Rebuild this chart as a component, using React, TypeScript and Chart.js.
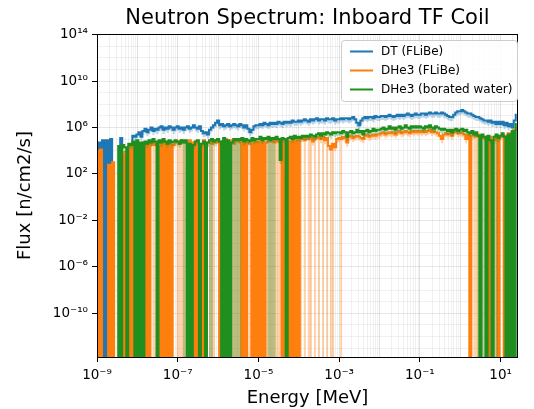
import React, { useEffect, useRef } from 'react';
import { Chart, registerables } from 'chart.js';

Chart.register(...registerables);

// ---------- data ----------
// Zero flux (tally empty): plotted just under the bottom of the log axis,
// so the curve drops straight down out of the plot
const Z = -14.3;

// Energy bin grid: log10(E / MeV) from -9 in steps of 0.05 decades (209 bins)
const ENERGY_EXP_START = -9;
const ENERGY_EXP_STEP = 0.05;

// log10 of flux [n/cm2/s], one value per energy bin
const dtFlibe = [
  Z, 4.7, Z, 4.9, Z, 4.9, Z, 5.0, Z, Z, Z, Z, 5.1, Z, Z, Z, Z, Z, 5.3, 5.2,
  5.4, 5.6, 5.2, 5.7, 5.9, 5.6, 5.8, 6.0, 5.7, 5.9, 5.8, 6.0, 6.1, 5.8, 6.0, 5.9, 6.1, 6.0, 5.8, 6.0,
  6.1, 5.9, 6.0, 5.8, 6.0, 6.1, 5.9, 6.0, 6.2, 6.0, 5.9, 6.1, 5.7, 5.5, 5.6, 5.4, 5.8, 6.0, 6.2, 6.4,
  6.6, 6.2, 6.3, 6.1, 6.2, 6.3, 6.1, 6.2, 6.3, 6.2, 6.1, 6.3, 6.2, 6.0, 6.2, 5.9, 5.6, 5.8, 6.1, 6.2,
  6.2, 6.3, 6.2, 6.4, 6.3, 6.2, 6.4, 6.3, 6.4, 6.3, 6.5, 6.4, 6.3, 6.5, 6.4, 6.5, 6.4, 6.6, 6.5, 6.5,
  6.6, 6.5, 6.6, 6.7, 6.6, 6.5, 6.7, 6.6, 6.7, 6.8, 6.6, 6.7, 6.7, 6.6, 6.8, 6.7, 6.7, 6.8, 6.6, 6.7,
  6.7, 6.8, 6.7, 6.8, 6.8, 6.7, 6.8, 6.9, 6.7, 6.4, 6.2, 6.6, 6.8, 6.9, 6.8, 6.9, 6.9, 6.8, 7.0, 6.9,
  6.9, 7.0, 7.0, 6.9, 7.0, 7.1, 7.0, 6.9, 7.0, 7.1, 7.0, 7.1, 7.0, 7.1, 7.2, 7.1, 7.0, 7.1, 7.2, 7.1,
  7.1, 7.2, 7.2, 7.1, 7.2, 7.3, 7.2, 7.2, 7.3, 7.2, 7.2, 7.3, 7.2, 7.1, 7.0, 6.9, 6.9, 7.1, 7.3, 7.4,
  7.4, 7.5, 7.4, 7.3, 7.2, 7.2, 7.1, 7.0, 6.9, 6.9, 6.8, 6.7, 6.6, 6.6, 6.5, 6.6, 6.4, 6.5, 6.3, 6.5,
  6.3, 6.5, 6.2, 6.4, 6.1, 6.3, 6.0, 6.6, 7.1,
];

const dhe3Flibe = [
  4.0, Z, 4.1, Z, Z, Z, 2.8, Z, 3.0, Z, Z, Z, 3.6, Z, 3.9, Z, 4.4, Z, 4.3, Z,
  4.5, 4.6, 4.4, 4.7, Z, 4.6, Z, 4.8, 4.5, 4.7, 4.4, Z, 4.7, Z, 4.8, Z, 4.6, Z, 4.5, 4.7,
  4.8, 4.6, 4.9, 4.7, 4.8, 4.6, 4.9, 4.7, Z, 4.8, Z, 4.6, Z, 4.9, Z, 4.7, 4.8, 4.6, 4.9, 4.7,
  4.9, Z, 4.8, Z, 5.0, Z, 4.7, 4.9, 4.6, 4.8, 4.9, 4.7, Z, 4.9, Z, 4.8, 4.6, Z, 5.0, Z,
  4.8, Z, 4.9, Z, 4.7, 5.0, 4.8, 4.9, 4.7, 5.1, 4.8, 4.9, Z, 4.9, Z, 4.8, Z, 5.0, Z, 4.9,
  Z, 5.0, 5.1, 4.9, 5.2, 5.0, 5.1, 4.8, 5.0, 5.2, 5.1, 5.0, 5.2, 4.9, 5.1, 4.4, 4.1, 4.6, 4.3, 5.0,
  5.1, 5.0, 5.2, 5.1, 4.7, 5.2, 5.3, 5.1, 5.2, 5.3, 5.2, 5.1, 5.0, 5.3, 5.4, 5.2, 5.3, 5.4, 5.3, 5.4,
  5.4, 5.5, 5.6, 5.4, 5.5, 5.6, 5.5, 5.6, 5.4, 5.6, 5.7, 5.5, 5.6, 5.7, 5.6, 5.5, 5.7, 5.6, 5.7, 5.6,
  5.7, 5.6, 5.7, 5.6, 5.7, 5.8, 5.6, 5.7, 5.6, 5.5, 5.3, 5.0, 5.4, 5.5, 5.4, 5.5, 5.3, 5.6, 5.7, 5.5,
  5.6, 5.5, 5.4, 5.0, 5.4, Z, 5.3, 5.5, 5.2, 5.4, 5.3, 5.1, 5.2, 5.0, Z, 5.2, Z, 4.9, 5.3, Z,
  5.2, 5.4, Z, 5.3, 5.5, 5.2, 5.6, 5.8, 6.0,
];

const dhe3Water = [
  Z, Z, Z, Z, Z, Z, Z, Z, Z, Z, Z, 4.4, Z, 4.5, 4.3, Z, 4.6, 4.5, 4.8, Z,
  4.9, Z, 4.7, Z, 4.8, 4.6, 4.9, 4.7, 5.0, 4.8, Z, 4.9, 4.7, 5.0, 4.8, 4.6, 4.9, 4.7, 4.8, 4.9,
  4.8, 4.6, 4.9, 4.7, 4.9, Z, 4.6, Z, 4.5, 4.8, 4.9, Z, 4.6, 4.8, Z, 4.7, 4.9, 5.0, 4.8, 4.9,
  5.0, 4.8, Z, 5.1, Z, 4.9, Z, 4.7, 5.0, 4.9, 5.0, 4.9, 5.1, 4.8, 5.0, 4.9, 4.8, 5.1, 4.9, 5.0,
  5.0, 5.2, 4.9, 5.1, 5.0, 5.2, 4.9, 5.1, 5.0, 5.2, 5.0, 3.2, 5.1, 5.0, Z, 5.1, 5.2, 5.0, 5.3, 5.1,
  5.2, 5.1, 5.3, 5.2, 5.3, 5.2, 5.4, 5.3, 5.2, 5.4, 5.5, 5.3, 5.5, 5.4, 5.6, 5.5, 5.4, 5.6, 5.5, 5.6,
  5.6, 5.5, 5.7, 5.6, 5.2, 5.6, 5.7, 5.5, 5.6, 5.8, 5.6, 5.7, 5.4, 5.7, 5.8, 5.6, 5.7, 5.9, 5.7, 5.8,
  5.8, 5.9, 6.0, 5.8, 5.9, 6.1, 5.9, 6.0, 5.8, 6.0, 6.1, 5.9, 6.0, 6.2, 6.0, 5.9, 6.1, 6.0, 6.1, 6.0,
  6.1, 6.0, 5.9, 6.1, 6.0, 6.2, 6.0, 5.9, 6.1, 6.0, 5.9, 5.8, 5.9, 5.8, 5.7, 5.8, 5.6, 5.8, 5.9, 5.7,
  5.8, 5.9, 5.7, 5.8, 5.6, 5.5, 5.7, 5.4, 5.6, 5.3, Z, 5.4, 5.2, Z, 5.3, 4.9, Z, 5.2, 5.4, 5.1,
  5.3, 5.5, 5.2, Z, 5.4, Z, 5.7, Z, 6.3,
];

// Uncertainty band: lower edge sits this many decades under the line,
// and reaches zero (bottom of the axis) in the listed bins
const BAND_DECADES = 0.35;
const dtFlibeBandZeroBins: number[] = [];
const dhe3FlibeBandZeroBins = [
  21, 22, 28, 29, 40, 41, 42, 43, 44, 56, 57, 58, 67, 68, 69, 70, 71, 76, 84, 85, 86, 87, 88, 89,
  90, 91, 101, 103, 105, 106, 108, 110, 112, 114, 116, 117, 121, 187, 188, 189, 191, 195, 198, 203,
];
const dhe3WaterBandZeroBins = [
  43, 44, 56, 57, 67, 68, 69, 70, 71, 85, 86, 87, 88, 189, 191, 192, 194, 197, 198, 202, 204, 206,
];

const seriesLabels = ['DT (FLiBe)', 'DHe3 (FLiBe)', 'DHe3 (borated water)'];
const seriesColors = ['#1f77b4', '#ff7f0e', '#1f8f1f'];
const bandColors = ['rgba(31,119,180,0.3)', 'rgba(255,127,14,0.35)', 'rgba(31,143,31,0.3)'];

const X_MIN = 1e-9;
const X_MAX = 27;
const Y_MIN = 1.75e-14;
const Y_MAX = 1.12e14;
const xLabelExps = [-9, -7, -5, -3, -1, 1];
const yLabelExps = [-10, -6, -2, 2, 6, 10, 14];
const xDecades = [-9, -8, -7, -6, -5, -4, -3, -2, -1, 0, 1];
const yDecades = Array.from({ length: 28 }, (_, k) => k - 13);

const TITLE = 'Neutron Spectrum: Inboard TF Coil';
const X_TITLE = 'Energy [MeV]';
const Y_TITLE = 'Flux [n/cm2/s]';

// ---------- helpers ----------
const FONT = '"DejaVu Sans", "Noto Sans", sans-serif';
const SUP: Record<string, string> = {
  '0': '⁰', '1': '¹', '2': '²', '3': '³', '4': '⁴', '5': '⁵', '6': '⁶', '7': '⁷', '8': '⁸', '9': '⁹', '-': '⁻',
};
const pow10Label = (e: number) => '10' + String(e).split('').map((c) => SUP[c]).join('');

const energies = dtFlibe.map((_, i) => Math.pow(10, ENERGY_EXP_START + ENERGY_EXP_STEP * i));
const toPoints = (exps: number[]) => exps.map((e, i) => ({ x: energies[i], y: Math.pow(10, e) }));
const toBand = (exps: number[], zeros: number[]) =>
  exps.map((e, i) => ({
    x: energies[i],
    y: e === Z || zeros.includes(i) ? Math.pow(10, Z) : Math.pow(10, e - BAND_DECADES),
  }));

const xTicks: { value: number; major: boolean }[] = [];
xDecades.forEach((d) => {
  for (let k = 1; k <= 9; k++) {
    const v = k * Math.pow(10, d);
    if (v >= X_MIN * 0.999 && v <= X_MAX) xTicks.push({ value: v, major: k === 1 });
  }
});
const yTicks = yDecades.map((d) => ({ value: Math.pow(10, d), major: yLabelExps.includes(d) }));

const expOf = (v: number) => Math.round(Math.log10(v));
const isPow10 = (v: number) => Math.abs(v / Math.pow(10, expOf(v)) - 1) < 1e-6;

const decorPlugin = {
  id: 'decor',
  afterDraw(chart: any) {
    const { ctx, chartArea: a } = chart;
    ctx.save();
    // frame (all four spines)
    ctx.strokeStyle = '#000';
    ctx.lineWidth = 1;
    ctx.strokeRect(Math.round(a.left) + 0.5, Math.round(a.top) + 0.5, Math.round(a.right - a.left) - 1, Math.round(a.bottom - a.top));
    // title
    ctx.fillStyle = '#000';
    ctx.font = `21px ${FONT}`;
    ctx.textAlign = 'center';
    ctx.textBaseline = 'middle';
    ctx.fillText(TITLE, (a.left + a.right) / 2, 19);
    // legend
    const lx = 341, ly = 40, lw = 176, lh = 61;
    ctx.beginPath();
    if (ctx.roundRect) ctx.roundRect(lx + 0.5, ly + 0.5, lw, lh, 3);
    else ctx.rect(lx + 0.5, ly + 0.5, lw, lh);
    ctx.fillStyle = 'rgba(255,255,255,0.8)';
    ctx.fill();
    ctx.strokeStyle = '#cccccc';
    ctx.lineWidth = 1;
    ctx.stroke();
    ctx.font = `12px ${FONT}`;
    ctx.textAlign = 'left';
    seriesLabels.forEach((label, k) => {
      const y = 51.5 + k * 19;
      ctx.strokeStyle = seriesColors[k];
      ctx.lineWidth = 2;
      ctx.beginPath();
      ctx.moveTo(350, y);
      ctx.lineTo(373, y);
      ctx.stroke();
      ctx.fillStyle = '#000';
      ctx.fillText(label, 381, y + 0.5);
    });
    ctx.restore();
  },
};

export default function App() {
  const ref = useRef<HTMLCanvasElement | null>(null);

  useEffect(() => {
    if (!ref.current) return;
    const lines = [dtFlibe, dhe3Flibe, dhe3Water];
    const zeros = [dtFlibeBandZeroBins, dhe3FlibeBandZeroBins, dhe3WaterBandZeroBins];
    const datasets: any[] = [];
    lines.forEach((exps, k) => {
      const lineIndex = datasets.length;
      datasets.push({
        label: seriesLabels[k],
        data: toPoints(exps),
        borderColor: seriesColors[k],
        backgroundColor: seriesColors[k],
        borderWidth: 2,
        pointRadius: 0,
        stepped: 'middle',
        fill: false,
        order: 6 - 2 * k,
      });
      datasets.push({
        label: seriesLabels[k] + ' band',
        data: toBand(exps, zeros[k]),
        borderWidth: 0,
        borderColor: 'transparent',
        backgroundColor: bandColors[k],
        pointRadius: 0,
        stepped: 'middle',
        fill: lineIndex,
        order: 5 - 2 * k,
      });
    });

    const chart = new Chart(ref.current, {
      type: 'line',
      data: { datasets },
      options: {
        responsive: false,
        animation: false,
        devicePixelRatio: 1,
        events: [],
        layout: { padding: { top: 34, right: 16, left: 0, bottom: 0 } },
        elements: {
          point: { radius: 0 },
          line: { tension: 0, borderJoinStyle: 'miter', borderCapStyle: 'butt' },
        },
        plugins: {
          legend: { display: false },
          tooltip: { enabled: false },
          title: { display: false },
        },
        scales: {
          x: {
            type: 'logarithmic',
            min: X_MIN,
            max: X_MAX,
            afterFit: (s: any) => { s.height = 52; },
            afterBuildTicks: (s: any) => { s.ticks = xTicks.map((t) => ({ ...t })); },
            border: { display: false },
            grid: {
              color: (c: any) => (c.tick && c.tick.major ? 'rgba(0,0,0,0.14)' : 'rgba(0,0,0,0.07)'),
              lineWidth: 0.8,
              tickLength: 5,
              tickWidth: 1,
              tickColor: (c: any) => (c.tick && c.tick.major && isPow10(c.tick.value) && xLabelExps.includes(expOf(c.tick.value)) ? '#000' : 'transparent'),
            },
            ticks: {
              autoSkip: false,
              maxRotation: 0,
              minRotation: 0,
              padding: 5,
              color: '#000',
              font: { family: FONT, size: 13.5 },
              callback: (v: any) => {
                const val = Number(v);
                return isPow10(val) && xLabelExps.includes(expOf(val)) ? pow10Label(expOf(val)) : '';
              },
            },
            title: {
              display: true,
              text: X_TITLE,
              color: '#000',
              font: { family: FONT, size: 18 },
              padding: { top: 0, bottom: 0 },
            },
          },
          y: {
            type: 'logarithmic',
            min: Y_MIN,
            max: Y_MAX,
            afterFit: (s: any) => { s.width = 97; },
            afterBuildTicks: (s: any) => { s.ticks = yTicks.map((t) => ({ ...t })); },
            border: { display: false },
            grid: {
              color: (c: any) => (c.tick && c.tick.major ? 'rgba(0,0,0,0.12)' : 'rgba(0,0,0,0.07)'),
              lineWidth: 0.8,
              tickLength: 5,
              tickWidth: 1,
              tickColor: (c: any) => (c.tick && c.tick.major ? '#000' : 'transparent'),
            },
            ticks: {
              autoSkip: false,
              padding: 4,
              color: '#000',
              font: { family: FONT, size: 13.5 },
              callback: (v: any) => {
                const val = Number(v);
                return yLabelExps.includes(expOf(val)) ? pow10Label(expOf(val)) : '';
              },
            },
            title: {
              display: true,
              text: Y_TITLE,
              color: '#000',
              font: { family: FONT, size: 18 },
              padding: { top: 15, bottom: 0 },
            },
          },
        },
      },
      plugins: [decorPlugin],
    } as any);

    return () => chart.destroy();
  }, []);

  return (
    <div style={{ position: 'fixed', left: 0, top: 0, width: 534, height: 409, background: '#fff' }}>
      <canvas ref={ref} width={534} height={409} style={{ display: 'block', width: 534, height: 409 }} />
    </div>
  );
}
